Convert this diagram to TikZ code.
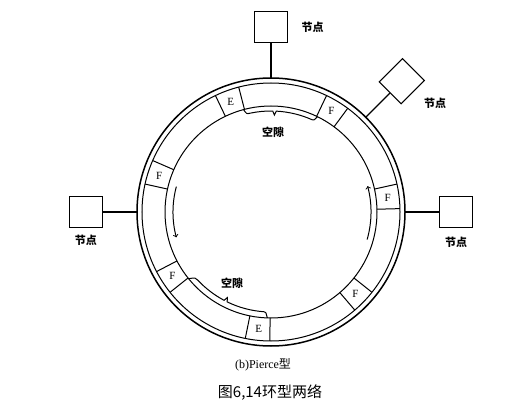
\documentclass[tikz,border=0pt]{standalone}
\usepackage{fontspec}
\setmainfont{Liberation Serif}
\newfontfamily\cjk{Noto Sans CJK SC}
\usetikzlibrary{positioning}

\begin{document}
\begin{tikzpicture}[x=1pt, y=1pt, line width=1pt,
    nodebox/.style={draw, line width=1.1pt, minimum width=33pt, minimum height=31pt, inner sep=0pt},
    tag/.style={font=\cjk\bfseries\fontsize{11}{11}\selectfont, inner sep=1pt},
    cellname/.style={font=\fontsize{11}{11}\selectfont, inner sep=0pt}]

  \useasboundingbox (-271,-200) rectangle (234,212);

  % Define ring radii
  \def\ro{134}
  \def\rt{129}
  \def\ri{106}

  % Draw the ring
  \draw[line width=1.5pt] (0,0) circle [radius=\ro];
  \draw (0,0) circle [radius=\rt];
  \draw (0,0) circle [radius=\ri];

  % Draw the slots
  \foreach \ang/\name in {110/E, 59/F, 7/F, 316/F, 264/E, 213/F, 162/F} {
    \draw (\ang-5.5:\ri) -- (\ang-5.5:\rt);
    \draw (\ang+5.5:\ri) -- (\ang+5.5:\rt);
    \node[cellname] (c-\ang) at (\ang:117.5) {\name};
  }

  % Draw the gaps
  \draw (105:\ri) .. controls (104:101) .. (102:101)
    arc[start angle=102, end angle=89, radius=101] -- (88:97) -- (87:101)
    arc[start angle=87, end angle=66, radius=101] .. controls (65:101) .. (64:\ri);
  \node[tag] (gap-top) at (2,80) {空隙};

  \draw (219:\ri) .. controls (221:100) .. (223:100)
    arc[start angle=223, end angle=242, radius=100] -- (243:96) -- (244:100)
    arc[start angle=244, end angle=266, radius=100] .. controls (267:100) .. (268:\ri);
  \node[tag] (gap-bottom) at (-39,-71) {空隙};

  % Draw the direction arrows
  \draw[->] (165:98) arc[start angle=165, end angle=195, radius=98];
  \draw[->] (-16:100) arc[start angle=-16, end angle=15, radius=100];

  % Draw the stations
  \foreach \ang/\rot/\id in {90/0/top, 45/45/ne, 180/0/west, 0/0/east} {
    \node[nodebox, rotate=\rot] (n-\id) at (\ang:185) {};
    \coordinate (p-\id) at (\ang:\ro);
    \draw[line width=1.2pt] (p-\id) -- (n-\id);
  }

  \node[tag, right=12pt of n-top] (t-top) {节点};
  \node[tag] (t-ne) at (164,109) {节点};
  \node[tag, below=6pt of n-west] (t-west) {节点};
  \node[tag, below=8pt of n-east] (t-east) {节点};

  % Captions
  \node[font=\fontsize{12}{12}\selectfont] (sub) at (-8,-153) {(b)Pierce{\cjk 型}};
  \node[font=\cjk\fontsize{15}{15}\selectfont] (cap) at (-1,-181) {图6,14环型两络};
\end{tikzpicture}
\end{document}
